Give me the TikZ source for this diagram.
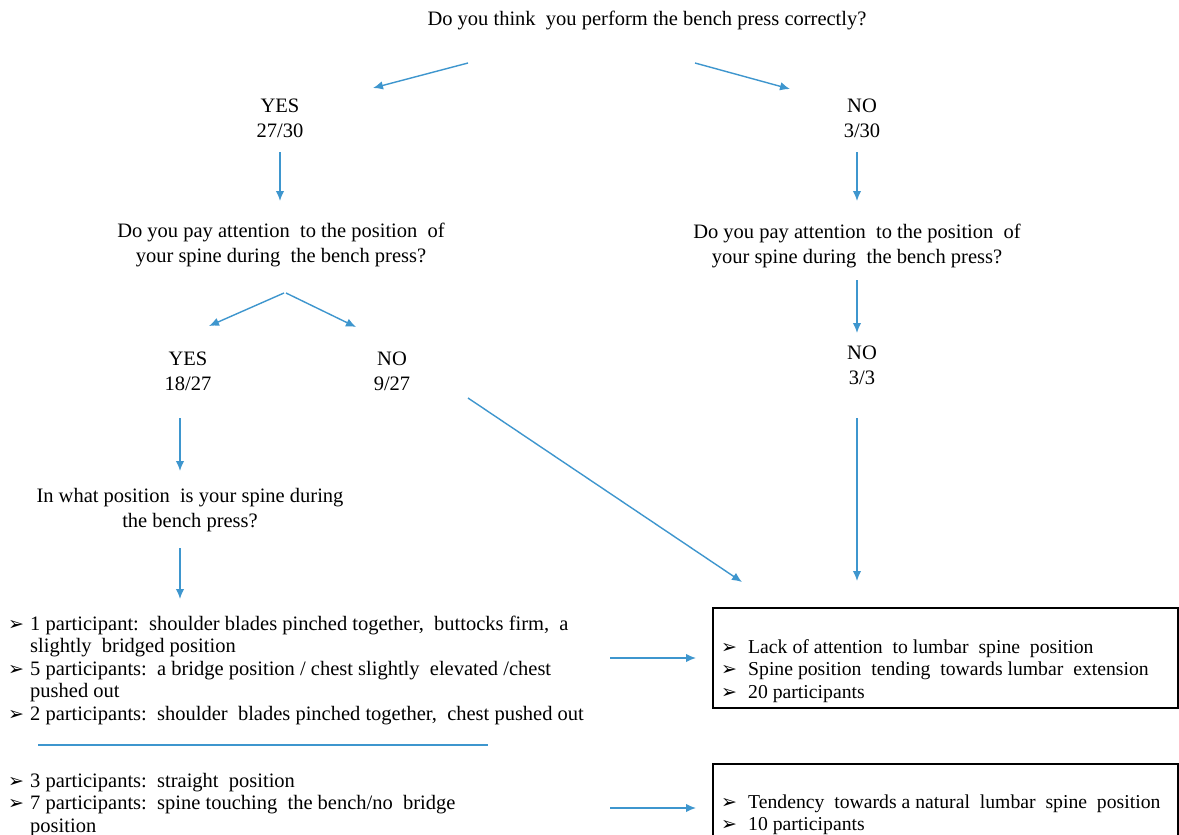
\documentclass[tikz,border=0pt]{standalone}
\usepackage{fontspec}
\setmainfont{Liberation Serif}
\newfontfamily\dingfont{DejaVu Sans}
\usetikzlibrary{arrows.meta}
\definecolor{arrblue}{RGB}{62,150,206}
\newcommand{\bul}{\makebox[22pt][l]{\dingfont\fontsize{19}{19}\selectfont ➢}}
\newcommand{\bulb}{\makebox[27pt][l]{\dingfont\fontsize{19}{19}\selectfont ➢}}
\newcommand{\ind}{\hspace*{22pt}}
\tikzset{
  lbl/.style={inner sep=0pt, align=center, font=\fontsize{20.5}{25}\selectfont, anchor=base},
  lst/.style={inner sep=0pt, align=left, font=\fontsize{20.5}{22.5}\selectfont, anchor=base west},
  boxlst/.style={inner sep=0pt, align=left, font=\fontsize{19.7}{22.3}\selectfont, anchor=base west},
  arr/.style={draw=arrblue, line width=1.4pt, -{Latex[length=10pt,width=8.5pt]}},
  sep/.style={draw=arrblue, line width=1.2pt},
  outbox/.style={draw=black, line width=1.4pt}
}
\begin{document}
\begin{tikzpicture}[x=1pt,y=-1pt]
\useasboundingbox (0,0) rectangle (1179,835);
\fill[white] (0,0) rectangle (1179,835);
\clip (0,0) rectangle (1179,835);

% question nodes (anchor = baseline of last line)
\node[lbl] (q1) at (647,25) {Do you think\ \ you perform the bench press correctly?};
\node[lbl] (yes1) at (280,137) {YES\\27/30};
\node[lbl] (no1) at (862,137) {NO\\3/30};
\node[lbl] (q2l) at (281,262) {Do you pay attention\ \ to the position\ \ of\\your spine during\ \ the bench press?};
\node[lbl] (q2r) at (857,263) {Do you pay attention\ \ to the position\ \ of\\your spine during\ \ the bench press?};
\node[lbl] (yes2) at (188,390) {YES\\18/27};
\node[lbl] (no2) at (392,390) {NO\\9/27};
\node[lbl] (no3) at (862,384) {NO\\3/3};
\node[lbl] (q3) at (190,527) {In what position\ \ is your spine during\\the bench press?};

% lists
\node[lst] (list1) at (8,720) {\bul 1 participant:\ \ shoulder blades pinched together,\ \ buttocks firm,\ \ a\\
\ind slightly\ \ bridged position\\
\bul 5 participants:\ \ a bridge position / chest slightly\ \ elevated /chest\\
\ind pushed out\\
\bul 2 participants:\ \ shoulder\ \ blades pinched together,\ \ chest pushed out};
\node[lst] (list2) at (8,832) {\bul 3 participants:\ \ straight\ \ position\\
\bul 7 participants:\ \ spine touching\ \ the bench/no\ \ bridge\\
\ind position};

% result boxes
\draw[outbox] (713,608) rectangle (1178,708);
\node[boxlst] (res1) at (721,698) {\bulb Lack of attention\ \ to lumbar\ \ spine\ \ position\\
\bulb Spine position\ \ tending\ \ towards lumbar\ \ extension\\
\bulb 20 participants};
\draw[outbox] (713,764) rectangle (1178,850);
\node[boxlst] (res2) at (721,830.5) {\bulb Tendency\ \ towards a natural\ \ lumbar\ \ spine\ \ position\\
\bulb 10 participants};

% arrow end coordinates
\coordinate (a1s) at (468,63);  \coordinate (a1e) at (373,88);
\coordinate (a2s) at (695,63);  \coordinate (a2e) at (790,89);
\coordinate (a3s) at (280,152); \coordinate (a3e) at (280,201);
\coordinate (a4s) at (857,152); \coordinate (a4e) at (857,201);
\coordinate (a5s) at (284,293); \coordinate (a5e) at (209,326);
\coordinate (a6s) at (286,293); \coordinate (a6e) at (356,327);
\coordinate (a7s) at (857,280); \coordinate (a7e) at (857,333);
\coordinate (a8s) at (180,418); \coordinate (a8e) at (180,471);
\coordinate (a9s) at (180,548); \coordinate (a9e) at (180,599);
\coordinate (a10s) at (468,398); \coordinate (a10e) at (742,582);
\coordinate (a11s) at (857,418); \coordinate (a11e) at (857,581);
\coordinate (a12s) at (610,658); \coordinate (a12e) at (696,658);
\coordinate (a13s) at (610,808); \coordinate (a13e) at (696,808);
\coordinate (l1) at (38,745); \coordinate (l2) at (488,745);

\draw[arr] (a1s) -- (a1e);
\draw[arr] (a2s) -- (a2e);
\draw[arr] (a3s) -- (a3e);
\draw[arr] (a4s) -- (a4e);
\draw[arr] (a5s) -- (a5e);
\draw[arr] (a6s) -- (a6e);
\draw[arr] (a7s) -- (a7e);
\draw[arr] (a8s) -- (a8e);
\draw[arr] (a9s) -- (a9e);
\draw[arr] (a10s) -- (a10e);
\draw[arr] (a11s) -- (a11e);
\draw[arr] (a12s) -- (a12e);
\draw[arr] (a13s) -- (a13e);
\draw[sep] (l1) -- (l2);
\end{tikzpicture}
\end{document}
